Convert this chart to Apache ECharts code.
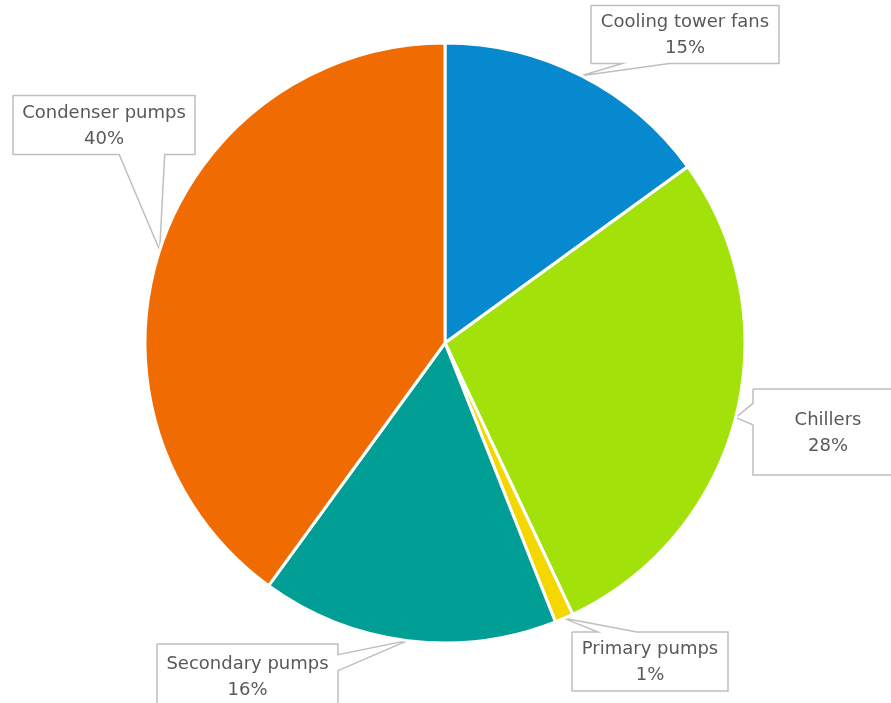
<!DOCTYPE html>
<html>
<head>
<meta charset="utf-8">
<title>Energy use by component</title>
<script src="https://cdn.jsdelivr.net/npm/echarts@6/dist/echarts.min.js"></script>
<style>
  html, body { margin: 0; padding: 0; background: #ffffff; }
  #chart { width: 891px; height: 703px; }
</style>
</head>
<body>
<div id="chart"></div>
<script>
// Share of energy by plant component (percent)
const categories = ['Cooling tower fans', 'Chillers', 'Primary pumps', 'Secondary pumps', 'Condenser pumps'];
const shares = [15, 28, 1, 16, 40];
const sliceColors = ['#0789CF', '#A3E10B', '#F5D700', '#009E94', '#F06C03'];

// Callout boxes: centre and size of each label box
const calloutBoxes = [
  { cx: 685, cy: 34.5, w: 188, h: 58 },
  { cx: 828, cy: 432, w: 150, h: 86 },
  { cx: 650, cy: 661.5, w: 156, h: 59 },
  { cx: 247.5, cy: 676, w: 181, h: 64 },
  { cx: 104, cy: 125, w: 182, h: 59 }
];

// Outline of a rectangular callout with a wedge pointing at (tx, ty)
function calloutOutline(box, tx, ty) {
  const l = box.cx - box.w / 2, r = box.cx + box.w / 2;
  const t = box.cy - box.h / 2, b = box.cy + box.h / 2;
  const dx = (tx - box.cx) / box.w, dy = (ty - box.cy) / box.h;
  const tl = [l, t], tr = [r, t], br = [r, b], bl = [l, b];
  const tip = [tx, ty];
  if (Math.abs(dy) >= Math.abs(dx)) {
    const f1 = dx < 0 ? 2 / 12 : 7 / 12, f2 = dx < 0 ? 5 / 12 : 10 / 12;
    const x1 = l + box.w * f1, x2 = l + box.w * f2;
    if (dy > 0) {
      return [tl, tr, br, [x2, b], tip, [x1, b], bl, tl];
    }
    return [tl, [x1, t], tip, [x2, t], tr, br, bl, tl];
  }
  const f1 = dy < 0 ? 2 / 12 : 7 / 12, f2 = dy < 0 ? 5 / 12 : 10 / 12;
  const y1 = t + box.h * f1, y2 = t + box.h * f2;
  if (dx > 0) {
    return [tl, tr, [r, y1], tip, [r, y2], br, bl, tl];
  }
  return [tl, tr, br, bl, [l, y2], tip, [l, y1], tl];
}

const pieData = categories.map((name, i) => ({
  name: name,
  value: shares[i],
  itemStyle: { color: sliceColors[i] }
}));

const chart = echarts.init(document.getElementById('chart'), null, { renderer: 'canvas' });

chart.setOption({
  backgroundColor: '#ffffff',
  animation: false,
  series: [{
    type: 'pie',
    center: [445, 343],
    radius: 300,
    startAngle: 90,
    clockwise: true,
    avoidLabelOverlap: false,
    data: pieData,
    itemStyle: { borderColor: '#ffffff', borderWidth: 3 },
    label: {
      show: true,
      position: 'outside',
      formatter: p => p.name + '\n' + p.value + '%',
      fontFamily: 'DejaVu Sans',
      fontSize: 18,
      lineHeight: 26,
      color: '#595959',
      align: 'center'
    },
    labelLine: {
      show: true,
      length: 10,
      length2: 10,
      smooth: false,
      lineStyle: { color: '#BFBFBF', width: 1.5 }
    },
    labelLayout: function (params) {
      const box = calloutBoxes[params.dataIndex];
      const tip = params.labelLinePoints[0];
      return {
        x: box.cx,
        y: box.cy + 1,
        align: 'center',
        verticalAlign: 'middle',
        labelLinePoints: calloutOutline(box, tip[0], tip[1])
      };
    },
    emphasis: { disabled: true }
  }]
});
</script>
</body>
</html>
